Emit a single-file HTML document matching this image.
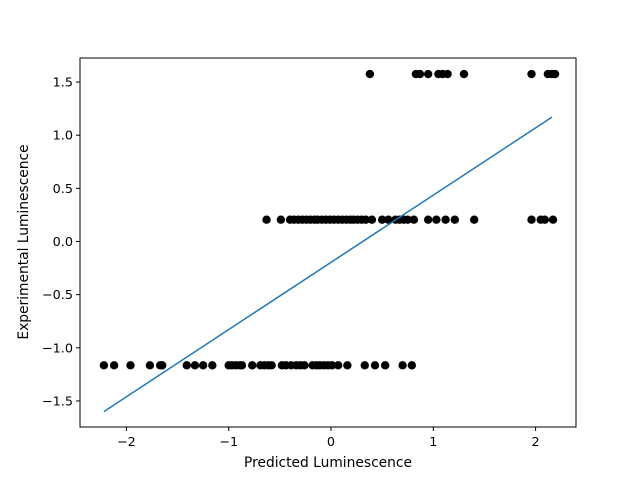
<!DOCTYPE html>
<html><head><meta charset="utf-8"><style>body{margin:0;background:#fff}svg{display:block;font-family:"DejaVu Sans","Liberation Sans",sans-serif}</style></head>
<body>
<svg id="chart" width="640" height="480"></svg>
<script>
const xBottom=[-2.22,-2.12,-1.96,-1.77,-1.67,-1.65,-1.41,-1.33,-1.25,-1.16,-1.0,-0.97,-0.93,-0.89,-0.87,-0.77,-0.69,-0.65,-0.61,-0.58,-0.48,-0.44,-0.39,-0.34,-0.30,-0.26,-0.18,-0.14,-0.11,-0.07,-0.03,0.01,0.07,0.16,0.33,0.43,0.53,0.70,0.79];
const xMiddle=[-0.63,-0.49,-0.40,-0.36,-0.32,-0.28,-0.24,-0.20,-0.16,-0.13,-0.09,-0.05,-0.01,0.03,0.07,0.11,0.15,0.19,0.22,0.26,0.30,0.34,0.40,0.50,0.56,0.63,0.67,0.71,0.75,0.81,0.95,1.03,1.12,1.21,1.40,1.96,2.05,2.09,2.17];
const xTop=[0.38,0.83,0.87,0.95,1.05,1.09,1.14,1.30,1.96,2.12,2.16,2.19];
const levels=[-1.165,0.205,1.575];
const fitX=[-2.22,2.16];
const fitY=[-1.6,1.17];
const xTicks=[-2,-1,0,1,2];
const yTicks=[-1.5,-1.0,-0.5,0.0,0.5,1.0,1.5];
const xTickLabels=["−2","−1","0","1","2"];
const yTickLabels=["−1.5","−1.0","−0.5","0.0","0.5","1.0","1.5"];

const NS="http://www.w3.org/2000/svg";
const svg=document.getElementById('chart');
const L=80,R=576,T=58,B=427;
const sx=v=>331+v*102.3;
const sy=v=>241.5-v*106.3;
function mk(tag,attrs,parent){const e=document.createElementNS(NS,tag);for(const k in attrs)e.setAttribute(k,attrs[k]);(parent||svg).appendChild(e);return e;}

const pts=mk('g',{});


[xBottom,xMiddle,xTop].forEach((arr,i)=>{
  arr.forEach(x=>{
    const c=mk('circle',{cx:sx(x),cy:sy(levels[i]),r:4.2,fill:'#000'},pts);
    
    
  });
});
const line=mk('line',{x1:sx(fitX[0]),y1:sy(fitY[0]),x2:sx(fitX[1]),y2:sy(fitY[1]),stroke:'#1f77b4','stroke-width':1.5});



const frame=mk('rect',{x:L,y:T,width:R-L,height:B-T,fill:'none',stroke:'#000','stroke-width':1});



xTicks.forEach((v,i)=>{
  const x=sx(v);
  mk('line',{x1:x,y1:B,x2:x,y2:B+4,stroke:'#000'});
  const t=mk('text',{x:x,y:B+19,'text-anchor':'middle','font-size':12.8});
  t.textContent=xTickLabels[i];
  
  
});
yTicks.forEach((v,i)=>{
  const y=sy(v);
  mk('line',{x1:L-4,y1:y,x2:L,y2:y,stroke:'#000'});
  const t=mk('text',{x:L-7,y:y+4.5,'text-anchor':'end','font-size':12.8});
  t.textContent=yTickLabels[i];
  
  
});
const xt=mk('text',{x:328,y:467,'text-anchor':'middle','font-size':13.8});
xt.textContent='Predicted Luminescence';


const yt=mk('text',{x:0,y:0,'text-anchor':'middle','font-size':13.8,transform:'translate(28,242) rotate(-90)'});
yt.textContent='Experimental Luminescence';


</script>
</body></html>
